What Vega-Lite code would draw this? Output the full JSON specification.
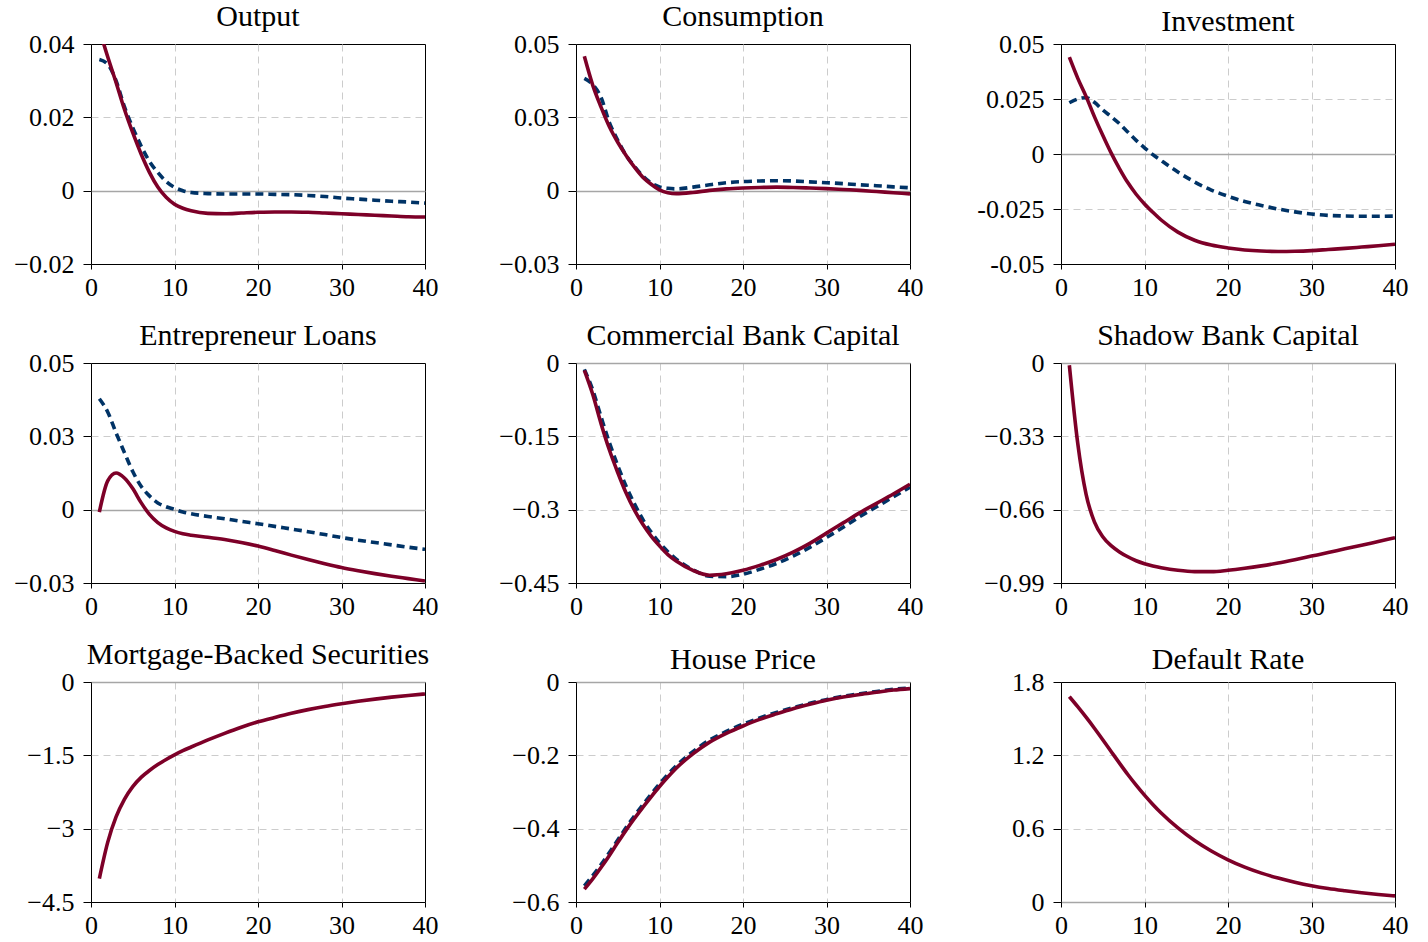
{
"$schema":"https://vega.github.io/schema/vega-lite/v6.json",
"background":"white",
"padding":{"left":13,"top":1,"right":5,"bottom":5},
"columns":3,
"spacing":{"row":99,"column":151},
"bounds":"flush",
"datasets":{
"out":[{"t":1,"red":0.0440,"blue":0.0358},{"t":2,"red":0.0365,"blue":0.0345},{"t":3,"red":0.0295,"blue":0.0300},{"t":4,"red":0.0222,"blue":0.0229},{"t":5,"red":0.0158,"blue":0.0172},{"t":6,"red":0.0100,"blue":0.0122},{"t":7,"red":0.0050,"blue":0.0080},{"t":8,"red":0.0010,"blue":0.0050},{"t":9,"red":-0.0018,"blue":0.0025},{"t":10,"red":-0.0037,"blue":0.0009},{"t":11,"red":-0.0048,"blue":0.0000},{"t":12,"red":-0.0055,"blue":-0.0005},{"t":14,"red":-0.0062,"blue":-0.0008},{"t":16,"red":-0.0063,"blue":-0.0009},{"t":18,"red":-0.0061,"blue":-0.0009},{"t":20,"red":-0.0059,"blue":-0.0009},{"t":22,"red":-0.0058,"blue":-0.0010},{"t":24,"red":-0.0058,"blue":-0.0011},{"t":26,"red":-0.0059,"blue":-0.0013},{"t":28,"red":-0.0061,"blue":-0.0016},{"t":30,"red":-0.0063,"blue":-0.0020},{"t":32,"red":-0.0065,"blue":-0.0023},{"t":34,"red":-0.0067,"blue":-0.0026},{"t":36,"red":-0.0069,"blue":-0.0029},{"t":38,"red":-0.0071,"blue":-0.0031},{"t":40,"red":-0.0072,"blue":-0.0034}],
"con":[{"t":1,"red":0.0458,"blue":0.0383},{"t":2,"red":0.0360,"blue":0.0362},{"t":3,"red":0.0285,"blue":0.0318},{"t":4,"red":0.0218,"blue":0.0232},{"t":5,"red":0.0165,"blue":0.0172},{"t":6,"red":0.0120,"blue":0.0120},{"t":7,"red":0.0080,"blue":0.0083},{"t":8,"red":0.0046,"blue":0.0050},{"t":9,"red":0.0022,"blue":0.0026},{"t":10,"red":0.0003,"blue":0.0013},{"t":11,"red":-0.0007,"blue":0.0008},{"t":12,"red":-0.0010,"blue":0.0006},{"t":14,"red":-0.0006,"blue":0.0012},{"t":16,"red":0.0001,"blue":0.0020},{"t":18,"red":0.0006,"blue":0.0027},{"t":20,"red":0.0009,"blue":0.0031},{"t":22,"red":0.0011,"blue":0.0033},{"t":24,"red":0.0012,"blue":0.0034},{"t":26,"red":0.0011,"blue":0.0033},{"t":28,"red":0.0009,"blue":0.0030},{"t":30,"red":0.0007,"blue":0.0027},{"t":32,"red":0.0004,"blue":0.0024},{"t":34,"red":0.0001,"blue":0.0020},{"t":36,"red":-0.0003,"blue":0.0017},{"t":38,"red":-0.0007,"blue":0.0013},{"t":40,"red":-0.0011,"blue":0.0010}],
"inv":[{"t":1,"red":0.0440,"blue":0.0233},{"t":2,"red":0.0345,"blue":0.0250},{"t":3,"red":0.0262,"blue":0.0256},{"t":4,"red":0.0170,"blue":0.0235},{"t":5,"red":0.0085,"blue":0.0200},{"t":6,"red":0.0005,"blue":0.0170},{"t":7,"red":-0.0066,"blue":0.0138},{"t":8,"red":-0.0130,"blue":0.0100},{"t":9,"red":-0.0183,"blue":0.0062},{"t":10,"red":-0.0227,"blue":0.0028},{"t":11,"red":-0.0265,"blue":-0.0003},{"t":12,"red":-0.0300,"blue":-0.0030},{"t":14,"red":-0.0355,"blue":-0.0082},{"t":16,"red":-0.0392,"blue":-0.0127},{"t":18,"red":-0.0414,"blue":-0.0164},{"t":20,"red":-0.0427,"blue":-0.0192},{"t":22,"red":-0.0436,"blue":-0.0216},{"t":24,"red":-0.0441,"blue":-0.0234},{"t":26,"red":-0.0443,"blue":-0.0250},{"t":28,"red":-0.0442,"blue":-0.0263},{"t":30,"red":-0.0439,"blue":-0.0273},{"t":32,"red":-0.0434,"blue":-0.0279},{"t":34,"red":-0.0429,"blue":-0.0282},{"t":36,"red":-0.0423,"blue":-0.0283},{"t":38,"red":-0.0417,"blue":-0.0283},{"t":40,"red":-0.0410,"blue":-0.0282}],
"ent":[{"t":1,"red":-0.0008,"blue":0.0378},{"t":2,"red":0.0098,"blue":0.0333},{"t":3,"red":0.0125,"blue":0.0262},{"t":4,"red":0.0108,"blue":0.0195},{"t":5,"red":0.0072,"blue":0.0130},{"t":6,"red":0.0024,"blue":0.0080},{"t":7,"red":-0.0016,"blue":0.0047},{"t":8,"red":-0.0044,"blue":0.0023},{"t":9,"red":-0.0062,"blue":0.0010},{"t":10,"red":-0.0074,"blue":0.0001},{"t":11,"red":-0.0082,"blue":-0.0008},{"t":12,"red":-0.0087,"blue":-0.0014},{"t":14,"red":-0.0094,"blue":-0.0023},{"t":16,"red":-0.0102,"blue":-0.0031},{"t":18,"red":-0.0112,"blue":-0.0040},{"t":20,"red":-0.0124,"blue":-0.0048},{"t":22,"red":-0.0139,"blue":-0.0057},{"t":24,"red":-0.0155,"blue":-0.0066},{"t":26,"red":-0.0170,"blue":-0.0075},{"t":28,"red":-0.0184,"blue":-0.0085},{"t":30,"red":-0.0197,"blue":-0.0095},{"t":32,"red":-0.0208,"blue":-0.0104},{"t":34,"red":-0.0218,"blue":-0.0112},{"t":36,"red":-0.0227,"blue":-0.0120},{"t":38,"red":-0.0235,"blue":-0.0128},{"t":40,"red":-0.0243,"blue":-0.0135}],
"cbc":[{"t":1,"red":-0.015,"blue":-0.013},{"t":2,"red":-0.064,"blue":-0.055},{"t":3,"red":-0.124,"blue":-0.110},{"t":4,"red":-0.178,"blue":-0.163},{"t":5,"red":-0.224,"blue":-0.210},{"t":6,"red":-0.266,"blue":-0.252},{"t":7,"red":-0.301,"blue":-0.288},{"t":8,"red":-0.330,"blue":-0.320},{"t":9,"red":-0.354,"blue":-0.346},{"t":10,"red":-0.374,"blue":-0.368},{"t":11,"red":-0.392,"blue":-0.386},{"t":12,"red":-0.405,"blue":-0.401},{"t":14,"red":-0.424,"blue":-0.423},{"t":16,"red":-0.434,"blue":-0.436},{"t":18,"red":-0.431,"blue":-0.437},{"t":20,"red":-0.424,"blue":-0.432},{"t":22,"red":-0.414,"blue":-0.422},{"t":24,"red":-0.402,"blue":-0.410},{"t":26,"red":-0.387,"blue":-0.395},{"t":28,"red":-0.369,"blue":-0.377},{"t":30,"red":-0.348,"blue":-0.357},{"t":32,"red":-0.327,"blue":-0.336},{"t":34,"red":-0.306,"blue":-0.314},{"t":36,"red":-0.287,"blue":-0.294},{"t":38,"red":-0.268,"blue":-0.274},{"t":40,"red":-0.248,"blue":-0.254}],
"sbc":[{"t":1,"red":-0.010},{"t":2,"red":-0.360},{"t":3,"red":-0.590},{"t":4,"red":-0.715},{"t":5,"red":-0.782},{"t":6,"red":-0.822},{"t":7,"red":-0.850},{"t":8,"red":-0.872},{"t":9,"red":-0.890},{"t":10,"red":-0.903},{"t":11,"red":-0.913},{"t":12,"red":-0.921},{"t":14,"red":-0.933},{"t":16,"red":-0.939},{"t":18,"red":-0.939},{"t":20,"red":-0.933},{"t":22,"red":-0.924},{"t":24,"red":-0.913},{"t":26,"red":-0.900},{"t":28,"red":-0.885},{"t":30,"red":-0.869},{"t":32,"red":-0.853},{"t":34,"red":-0.836},{"t":36,"red":-0.820},{"t":38,"red":-0.803},{"t":40,"red":-0.786}],
"mbs":[{"t":1,"red":-4.02},{"t":2,"red":-3.28},{"t":3,"red":-2.76},{"t":4,"red":-2.40},{"t":5,"red":-2.14},{"t":6,"red":-1.95},{"t":7,"red":-1.81},{"t":8,"red":-1.69},{"t":9,"red":-1.585},{"t":10,"red":-1.49},{"t":11,"red":-1.405},{"t":12,"red":-1.33},{"t":14,"red":-1.185},{"t":16,"red":-1.05},{"t":18,"red":-0.925},{"t":20,"red":-0.815},{"t":22,"red":-0.725},{"t":24,"red":-0.64},{"t":26,"red":-0.565},{"t":28,"red":-0.50},{"t":30,"red":-0.445},{"t":32,"red":-0.395},{"t":34,"red":-0.35},{"t":36,"red":-0.31},{"t":38,"red":-0.275},{"t":40,"red":-0.245}],
"hp":[{"t":1,"red":-0.565,"blue":-0.556},{"t":2,"red":-0.537,"blue":-0.528},{"t":3,"red":-0.506,"blue":-0.498},{"t":4,"red":-0.473,"blue":-0.465},{"t":5,"red":-0.438,"blue":-0.431},{"t":6,"red":-0.404,"blue":-0.397},{"t":7,"red":-0.372,"blue":-0.365},{"t":8,"red":-0.342,"blue":-0.335},{"t":9,"red":-0.313,"blue":-0.306},{"t":10,"red":-0.285,"blue":-0.278},{"t":11,"red":-0.259,"blue":-0.252},{"t":12,"red":-0.235,"blue":-0.229},{"t":14,"red":-0.196,"blue":-0.190},{"t":16,"red":-0.164,"blue":-0.158},{"t":18,"red":-0.140,"blue":-0.135},{"t":20,"red":-0.120,"blue":-0.115},{"t":22,"red":-0.102,"blue":-0.098},{"t":24,"red":-0.087,"blue":-0.083},{"t":26,"red":-0.073,"blue":-0.070},{"t":28,"red":-0.061,"blue":-0.058},{"t":30,"red":-0.050,"blue":-0.048},{"t":32,"red":-0.041,"blue":-0.039},{"t":34,"red":-0.034,"blue":-0.032},{"t":36,"red":-0.028,"blue":-0.026},{"t":38,"red":-0.022,"blue":-0.020},{"t":40,"red":-0.018,"blue":-0.016}],
"dr":[{"t":1,"red":1.680},{"t":2,"red":1.598},{"t":3,"red":1.512},{"t":4,"red":1.422},{"t":5,"red":1.328},{"t":6,"red":1.232},{"t":7,"red":1.136},{"t":8,"red":1.043},{"t":9,"red":0.956},{"t":10,"red":0.874},{"t":11,"red":0.798},{"t":12,"red":0.728},{"t":14,"red":0.606},{"t":16,"red":0.503},{"t":18,"red":0.417},{"t":20,"red":0.345},{"t":22,"red":0.285},{"t":24,"red":0.236},{"t":26,"red":0.196},{"t":28,"red":0.162},{"t":30,"red":0.133},{"t":32,"red":0.110},{"t":34,"red":0.092},{"t":36,"red":0.076},{"t":38,"red":0.062},{"t":40,"red":0.050}]
},
"concat":[
{"title":{"text":"Output","offset":-1},"width":334,"height":220,"data":{"name":"out"},
 "encoding":{"x":{"field":"t","type":"quantitative","title":null,"scale":{"domain":[0,40],"nice":false},"axis":{"values":[0,10,20,30,40]}}},
 "layer":[
  {"mark":{"type":"line","color":"#003366","strokeWidth":3.6,"strokeDash":[8,5],"interpolate":"monotone","clip":true},"encoding":{"y":{"field":"blue","type":"quantitative","title":null}}},
  {"mark":{"type":"line","color":"#7d0028","strokeWidth":3.6,"interpolate":"monotone","clip":true},"encoding":{"y":{"field":"red","type":"quantitative","title":null,"scale":{"domain":[-0.02,0.04],"nice":false,"zero":false},"axis":{"values":[-0.02,0,0.02,0.04],"labelExpr":"datum.value==0?'0':format(datum.value,'~g')"}}}}
 ]},
{"title":{"text":"Consumption","offset":-1},"width":334,"height":220,"data":{"name":"con"},
 "encoding":{"x":{"field":"t","type":"quantitative","title":null,"scale":{"domain":[0,40],"nice":false},"axis":{"values":[0,10,20,30,40]}}},
 "layer":[
  {"mark":{"type":"line","color":"#003366","strokeWidth":3.6,"strokeDash":[8,5],"interpolate":"monotone","clip":true},"encoding":{"y":{"field":"blue","type":"quantitative","title":null}}},
  {"mark":{"type":"line","color":"#7d0028","strokeWidth":3.6,"interpolate":"monotone","clip":true},"encoding":{"y":{"field":"red","type":"quantitative","title":null,"scale":{"domain":[-0.025,0.05],"nice":false,"zero":false},"axis":{"values":[-0.025,0,0.025,0.05],"labelExpr":"datum.value>0.04?'0.05':datum.value>0.01?'0.03':datum.value>-0.01?'0':'−0.03'"}}}}
 ]},
{"title":{"text":"Investment","offset":-6},"width":334,"height":220,"data":{"name":"inv"},
 "encoding":{"x":{"field":"t","type":"quantitative","title":null,"scale":{"domain":[0,40],"nice":false},"axis":{"values":[0,10,20,30,40]}}},
 "layer":[
  {"mark":{"type":"line","color":"#003366","strokeWidth":3.6,"strokeDash":[8,5],"interpolate":"monotone","clip":true},"encoding":{"y":{"field":"blue","type":"quantitative","title":null}}},
  {"mark":{"type":"line","color":"#7d0028","strokeWidth":3.6,"interpolate":"monotone","clip":true},"encoding":{"y":{"field":"red","type":"quantitative","title":null,"scale":{"domain":[-0.05,0.05],"nice":false,"zero":false},"axis":{"values":[-0.05,-0.025,0,0.025,0.05],"labelExpr":"datum.value==0?'0':replace(format(datum.value,'~g'),'−','-')"}}}}
 ]},
{"title":{"text":"Entrepreneur Loans","offset":-1},"width":334,"height":220,"data":{"name":"ent"},
 "encoding":{"x":{"field":"t","type":"quantitative","title":null,"scale":{"domain":[0,40],"nice":false},"axis":{"values":[0,10,20,30,40]}}},
 "layer":[
  {"mark":{"type":"line","color":"#003366","strokeWidth":3.6,"strokeDash":[8,5],"interpolate":"monotone","clip":true},"encoding":{"y":{"field":"blue","type":"quantitative","title":null}}},
  {"mark":{"type":"line","color":"#7d0028","strokeWidth":3.6,"interpolate":"monotone","clip":true},"encoding":{"y":{"field":"red","type":"quantitative","title":null,"scale":{"domain":[-0.025,0.05],"nice":false,"zero":false},"axis":{"values":[-0.025,0,0.025,0.05],"labelExpr":"datum.value>0.04?'0.05':datum.value>0.01?'0.03':datum.value>-0.01?'0':'−0.03'"}}}}
 ]},
{"title":{"text":"Commercial Bank Capital","offset":-1},"width":334,"height":220,"data":{"name":"cbc"},
 "encoding":{"x":{"field":"t","type":"quantitative","title":null,"scale":{"domain":[0,40],"nice":false},"axis":{"values":[0,10,20,30,40]}}},
 "layer":[
  {"mark":{"type":"line","color":"#003366","strokeWidth":3.6,"strokeDash":[8,5],"interpolate":"monotone","clip":true},"encoding":{"y":{"field":"blue","type":"quantitative","title":null}}},
  {"mark":{"type":"line","color":"#7d0028","strokeWidth":3.6,"interpolate":"monotone","clip":true},"encoding":{"y":{"field":"red","type":"quantitative","title":null,"scale":{"domain":[-0.45,0],"nice":false,"zero":false},"axis":{"values":[-0.45,-0.3,-0.15,0],"labelExpr":"datum.value==0?'0':format(datum.value,'~g')"}}}}
 ]},
{"title":{"text":"Shadow Bank Capital","offset":-1},"width":334,"height":220,"data":{"name":"sbc"},
 "encoding":{"x":{"field":"t","type":"quantitative","title":null,"scale":{"domain":[0,40],"nice":false},"axis":{"values":[0,10,20,30,40]}}},
 "layer":[
  {"mark":{"type":"line","color":"#7d0028","strokeWidth":3.6,"interpolate":"monotone","clip":true},"encoding":{"y":{"field":"red","type":"quantitative","title":null,"scale":{"domain":[-0.99,0],"nice":false,"zero":false},"axis":{"values":[-0.99,-0.66,-0.33,0],"labelExpr":"datum.value==0?'0':format(datum.value,'~g')"}}}}
 ]},
{"title":{"text":"Mortgage-Backed Securities","offset":-1},"width":334,"height":220,"data":{"name":"mbs"},
 "encoding":{"x":{"field":"t","type":"quantitative","title":null,"scale":{"domain":[0,40],"nice":false},"axis":{"values":[0,10,20,30,40]}}},
 "layer":[
  {"mark":{"type":"line","color":"#7d0028","strokeWidth":3.6,"interpolate":"monotone","clip":true},"encoding":{"y":{"field":"red","type":"quantitative","title":null,"scale":{"domain":[-4.5,0],"nice":false,"zero":false},"axis":{"values":[-4.5,-3,-1.5,0],"labelExpr":"datum.value==0?'0':format(datum.value,'~g')"}}}}
 ]},
{"title":{"text":"House Price","offset":-6},"width":334,"height":220,"data":{"name":"hp"},
 "encoding":{"x":{"field":"t","type":"quantitative","title":null,"scale":{"domain":[0,40],"nice":false},"axis":{"values":[0,10,20,30,40]}}},
 "layer":[
  {"mark":{"type":"line","color":"#003366","strokeWidth":3.6,"strokeDash":[8,5],"interpolate":"monotone","clip":true},"encoding":{"y":{"field":"blue","type":"quantitative","title":null}}},
  {"mark":{"type":"line","color":"#7d0028","strokeWidth":3.6,"interpolate":"monotone","clip":true},"encoding":{"y":{"field":"red","type":"quantitative","title":null,"scale":{"domain":[-0.6,0],"nice":false,"zero":false},"axis":{"values":[-0.6,-0.4,-0.2,0],"labelExpr":"datum.value==0?'0':format(datum.value,'~g')"}}}}
 ]},
{"title":{"text":"Default Rate","offset":-6},"width":334,"height":220,"data":{"name":"dr"},
 "encoding":{"x":{"field":"t","type":"quantitative","title":null,"scale":{"domain":[0,40],"nice":false},"axis":{"values":[0,10,20,30,40]}}},
 "layer":[
  {"mark":{"type":"line","color":"#7d0028","strokeWidth":3.6,"interpolate":"monotone","clip":true},"encoding":{"y":{"field":"red","type":"quantitative","title":null,"scale":{"domain":[0,1.8],"nice":false,"zero":false},"axis":{"values":[0,0.6,1.2,1.8],"labelExpr":"datum.value==0?'0':format(datum.value,'~g')"}}}}
 ]}
],
"config":{
 "font":"Liberation Serif",
 "view":{"stroke":"#000000","strokeWidth":1},
 "axis":{"domain":false,"labelFont":"Liberation Serif","labelFontSize":26,"labelColor":"#000000","tickColor":"#000000","tickWidth":1,"gridDash":[7,5],"labelFlush":false,"labelOverlap":false},
 "axisX":{"tickSize":5,"labelPadding":5,"gridColor":"#cccccc","gridWidth":1,"gridOpacity":{"condition":{"test":"datum.index==0||datum.index==1","value":0},"value":1}},
 "axisY":{"tickSize":8,"labelPadding":9,
   "gridOpacity":{"condition":{"test":"(datum.index==0||datum.index==1)&&datum.value!==0","value":0},"value":1},
   "gridColor":{"condition":{"test":"datum.value===0","value":"#a6a6a6"},"value":"#cccccc"},
   "gridDash":{"condition":{"test":"datum.value===0","value":[1,0]},"value":[7,5]},
   "gridWidth":{"condition":{"test":"datum.value===0","value":1.3},"value":1}},
 "title":{"font":"Liberation Serif","fontSize":30,"fontWeight":"normal","color":"#000000","baseline":"alphabetic","anchor":"middle"}
}
}
